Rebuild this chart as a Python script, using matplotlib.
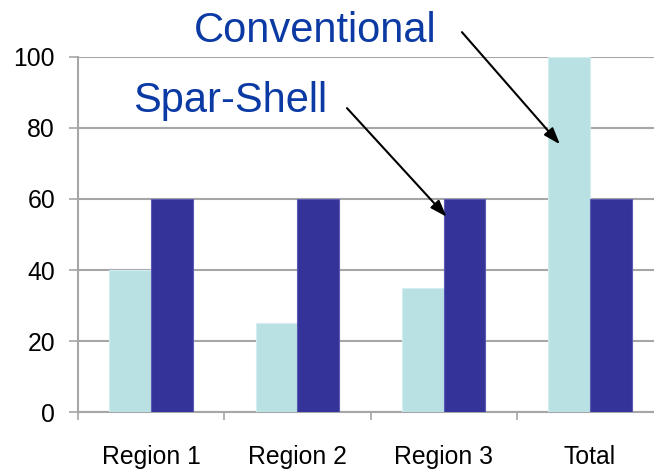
import matplotlib
matplotlib.use('Agg')
import matplotlib.pyplot as plt
import numpy as np

categories   = ['Region 1', 'Region 2', 'Region 3', 'Total']
conventional = [40, 25, 35, 100]
sparShell    = [60, 60, 60, 60]
yTicks       = [0, 20, 40, 60, 80, 100]

lightColor = '#B9E1E4'
darkColor  = '#333399'
gridColor  = '#A6A6A6'
textBlue   = '#0B3AA4'

plt.rcParams['font.family'] = ['Liberation Sans', 'DejaVu Sans']

fig = plt.figure(figsize=(6.54, 4.69), dpi=100)
# right edge sits past the figure so the last gap is cut off
ax = fig.add_axes([0.1193, 0.1215, 0.8945, 0.7570])

x = np.arange(len(categories))
barWidth = 0.285

ax.bar(x - barWidth / 2, conventional, barWidth, color=lightColor,
       edgecolor='#D4EEF0', linewidth=0.8, zorder=3)
ax.bar(x + barWidth / 2, sparShell, barWidth, color=darkColor,
       edgecolor='#5A5AB4', linewidth=0.8, zorder=3)

ax.set_xlim(-0.5, len(categories) - 0.5)
ax.set_ylim(0, 100)

ax.set_yticks(yTicks)
ax.yaxis.grid(True, color=gridColor, linewidth=1.5, zorder=0)
ax.set_axisbelow(True)

# ticks at the category boundaries, labels at the centres
ax.set_xticks(np.arange(-0.5, len(categories), 1.0))
ax.set_xticklabels([])
ax.set_xticks(x, minor=True)
ax.set_xticklabels(categories, minor=True)
ax.tick_params(axis='x', which='major', length=6, width=1.2, color=gridColor)
ax.tick_params(axis='x', which='minor', length=0, pad=24, labelsize=17.8)
ax.tick_params(axis='y', length=6.5, width=1.2, color=gridColor, pad=10,
               labelsize=17.8)

for side in ['top', 'right']:
    ax.spines[side].set_visible(False)
for side in ['left', 'bottom']:
    ax.spines[side].set_color(gridColor)
    ax.spines[side].set_linewidth(1.5)

ax.text(0.293, 104.2, 'Conventional', fontsize=30, color=textBlue,
        ha='left', va='baseline', clip_on=False)
ax.text(-0.124, 84.5, 'Spar-Shell', fontsize=30, color=textBlue,
        ha='left', va='baseline', clip_on=False)

arrowProps = dict(arrowstyle='-|>,head_length=1.0,head_width=0.35',
                  color='black', linewidth=1.5, shrinkA=0, shrinkB=0)
ax.annotate('', xy=(2.795, 75.4), xytext=(2.125, 107.0),
            arrowprops=arrowProps, annotation_clip=False)
ax.annotate('', xy=(2.02, 55.0), xytext=(1.339, 85.6),
            arrowprops=arrowProps, annotation_clip=False)

fig.savefig('out.png', dpi=100)
